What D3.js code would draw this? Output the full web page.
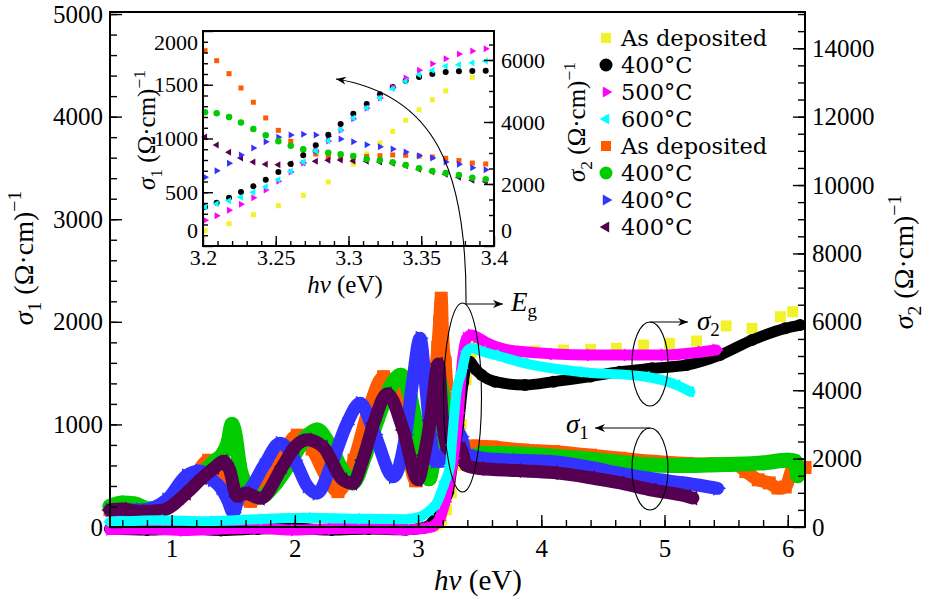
<!DOCTYPE html>
<html><head><meta charset="utf-8">
<script src="https://cdn.jsdelivr.net/npm/d3@7"></script>
<style>
html,body{margin:0;padding:0;background:#fff;}
svg{display:block;}
</style></head>
<body>
<svg id="chart" width="926" height="600"></svg>
<script>
// ================= DATA =================
// Legend labels (order as in the reference legend)
const legendLabels = ["As deposited","400°C","500°C","600°C","As deposited","400°C","400°C","400°C"];

// Axis ticks
const xTicks = [1,2,3,4,5,6];
const y1Ticks = [0,1000,2000,3000,4000,5000];
const y2Ticks = [0,2000,4000,6000,8000,10000,12000,14000];
const insetXTicks = [3.2,3.25,3.3,3.35,3.4];
const insetY1Ticks = [0,500,1000,1500,2000];
const insetY2Ticks = [0,2000,4000,6000];

// ---- main plot: sigma2 (right axis) series, [hν (eV), value] ----
const s2AsDeposited = [[3.12,20],[3.16,80],[3.19,205],[3.23,500],[3.27,1000],[3.31,1800],[3.35,3000],[3.39,4300],[3.43,5100],[3.47,5350],[3.55,5300],[3.7,5200],[3.95,5150],[4.18,5175],[4.4,5195],[4.61,5225],[4.83,5322],[5.04,5371],[5.26,5439],[5.5,5880],[5.71,5809],[5.94,6150],[6.04,6296]];
const s2T400 = [[0.5,-60],[0.8,-90],[1.1,-50],[1.4,-100],[1.7,-60],[2.0,-40],[2.3,-90],[2.6,-60],[2.9,-80],[3.05,-20],[3.12,150],[3.164,351],[3.21,700],[3.245,1032],[3.286,2009],[3.327,2982],[3.367,4249],[3.394,4737],[3.42,4833],[3.47,4600],[3.516,4444],[3.624,4249],[3.868,4152],[4.1,4250],[4.4,4400],[4.64,4541],[4.9,4640],[5.18,4737],[5.45,5029],[5.71,5468],[5.98,5809],[6.1,5906]];
const s2T500 = [[0.5,-70],[0.8,-60],[1.1,-100],[1.4,-60],[1.7,-40],[2.0,-90],[2.3,-50],[2.6,-40],[2.9,-80],[3.1,-10],[3.17,200],[3.218,740],[3.25,1300],[3.286,2009],[3.327,3325],[3.354,4640],[3.394,5517],[3.435,5614],[3.48,5550],[3.55,5400],[3.7,5200],[3.84,5130],[4.1,5060],[4.4,5030],[4.7,5030],[5.0,5030],[5.3,5120],[5.42,5175]];
const s2T600 = [[0.5,150],[0.9,200],[1.3,170],[1.7,230],[2.1,270],[2.5,240],[2.9,230],[3.016,300],[3.1,500],[3.15,693],[3.218,1325],[3.26,1800],[3.273,2398],[3.313,3957],[3.354,4541],[3.394,5126],[3.435,5225],[3.52,5130],[3.624,5029],[3.868,4786],[4.3,4541],[4.85,4395],[5.1,4150],[5.21,3956]];

// ---- main plot: sigma1 (left axis) series ----
const s1AsDeposited = [[0.5,170],[0.62,190],[0.75,160],[0.9,165],[1.05,280],[1.18,480],[1.3,650],[1.4,560],[1.5,400],[1.64,250],[1.78,430],[1.9,700],[2.02,895],[2.14,760],[2.25,500],[2.35,345],[2.48,650],[2.6,1150],[2.72,1465],[2.83,1250],[2.92,720],[2.98,450],[3.04,650],[3.1,1050],[3.14,1450],[3.16,1750],[3.175,2000],[3.188,2230],[3.2,1820],[3.22,1600],[3.24,1280],[3.26,1000],[3.28,860],[3.32,830],[3.38,780],[3.45,790],[3.6,780],[3.85,750],[4.1,735],[4.4,700],[4.64,670],[4.9,640],[5.18,620],[5.4,615],[5.56,620],[5.66,540],[5.76,460],[5.85,430],[5.92,380],[5.98,390],[6.05,590],[6.14,580]];
const s1T400a = [[0.5,200],[0.6,235],[0.7,225],[0.82,175],[0.95,200],[1.05,300],[1.15,420],[1.25,520],[1.35,640],[1.42,720],[1.46,830],[1.49,1000],[1.52,860],[1.55,600],[1.6,420],[1.72,295],[1.84,420],[1.96,630],[2.08,860],[2.18,945],[2.28,800],[2.38,560],[2.47,430],[2.57,700],[2.67,1050],[2.77,1350],[2.86,1480],[2.94,1250],[3.0,880],[3.05,560],[3.09,470],[3.13,750],[3.16,1150],[3.18,1400],[3.2,1250],[3.25,1080],[3.3,830],[3.35,760],[3.39,640],[3.45,680],[3.52,720],[3.7,715],[4.0,700],[4.3,670],[4.64,630],[4.9,605],[5.2,600],[5.5,610],[5.8,625],[6.0,650],[6.06,640],[6.08,500]];
const s1T400b = [[0.5,165],[0.75,165],[0.96,265],[1.12,500],[1.23,545],[1.33,460],[1.4,380],[1.46,250],[1.5,140],[1.55,300],[1.61,330],[1.75,600],[1.88,816],[2.0,650],[2.1,400],[2.18,330],[2.3,620],[2.42,1000],[2.53,1206],[2.65,900],[2.8,490],[2.9,900],[2.96,1450],[3.016,1840],[3.06,1400],[3.1,900],[3.14,640],[3.2,640],[3.23,770],[3.26,970],[3.285,1039],[3.31,960],[3.35,880],[3.39,710],[3.45,690],[3.52,670],[3.8,650],[4.1,636],[4.4,580],[4.64,523],[4.9,470],[5.18,426],[5.43,377]];
const s1T400c = [[0.5,165],[0.6,175],[0.74,150],[0.93,165],[1.12,330],[1.25,480],[1.35,580],[1.42,640],[1.47,560],[1.53,300],[1.6,330],[1.72,280],[1.9,590],[2.0,780],[2.1,850],[2.23,780],[2.39,460],[2.47,426],[2.55,650],[2.64,1010],[2.75,1300],[2.88,945],[3.0,460],[3.05,700],[3.1,1040],[3.165,1590],[3.2,1010],[3.25,756],[3.29,800],[3.35,760],[3.39,600],[3.5,570],[3.8,550],[4.1,530],[4.4,480],[4.64,430],[4.9,360],[5.18,300],[5.23,283]];

// ---- inset data ----
const insetEnergy = [3.2014,3.2094,3.2179,3.2261,3.2346,3.2431,3.2518,3.2603,3.2689,3.2775,3.2861,3.2946,3.3033,3.3125,3.3216,3.3304,3.3393,3.3485,3.3576,3.3668,3.3759,3.3851,3.3943];
const insetS1AsDeposited = [1817,1724,1603,1470,1337,1191,1076,974,895,856,828,819,823,833,840,847,844,837,828,816,795,772,763];
const insetS1T400a = [1244,1234,1200,1150,1088,1030,974,933,900,881,868,853,837,809,797,778,753,723,698,679,660,635,620];
const insetS1T400b = [639,700,769,847,912,970,1011,1033,1039,1033,1020,995,970,942,924,902,874,840,819,781,760,729,710];
const insetS1T400c = [1014,940,872,819,781,760,756,766,775,788,797,800,791,788,781,769,747,713,691,667,639,611,598];
const insetS2T400 = [1258,1397,1558,1742,1926,2139,2387,2645,2926,3248,3590,3935,4268,4581,4894,5129,5332,5452,5548,5613,5635,5645,5655];
const insetS2T500 = [829,977,1152,1345,1558,1806,2087,2387,2677,3065,3387,3732,4106,4442,4774,5119,5419,5668,5881,6042,6194,6290,6365];
const insetS2T600 = [1258,1365,1461,1571,1732,1913,2139,2410,2710,3074,3397,3752,4129,4452,4774,5074,5313,5526,5668,5797,5848,5913,5968];
const insetYellowEnergy = [3.2014,3.2179,3.2346,3.2518,3.2689,3.2861,3.3033,3.3125,3.3216,3.3304,3.3393,3.3485,3.3576,3.3668,3.3851];
const insetS2AsDeposited = [494,719,1010,1300,1635,2065,2645,2968,3323,3700,4055,4397,4719,5000,5442];

// ================= STYLE =================
const FONT = "'Liberation Serif','Times New Roman',serif";
const LFONT = "'DejaVu Serif','Liberation Serif',serif";
const COL = {yellow:"#f2f22a", black:"#000000", magenta:"#ff00ff", cyan:"#00ffff",
             orange:"#ff5a00", green:"#00cc00", blue:"#3333ff", purple:"#560052"};

const svg = d3.select("#chart");
const defs = svg.append("defs");
defs.append("marker").attr("id","arr").attr("viewBox","0 -5 10 10")
  .attr("refX",10).attr("refY",0).attr("markerWidth",10).attr("markerHeight",10)
  .attr("markerUnits","userSpaceOnUse").attr("orient","auto")
  .append("path").attr("d","M0,-4L10,0L0,4L3,0Z").attr("fill","#000");

// ================= SCALES =================
const x = d3.scaleLinear().domain([0.5,6.14]).range([110,805]);
const y1 = d3.scaleLinear().domain([0,5020]).range([527,12]);
const y2 = d3.scaleLinear().domain([0,15060]).range([527,12]);

const xi = d3.scaleLinear().domain([3.2,3.4]).range([203,494]);
const yi1 = d3.scaleLinear().domain([0,2000]).range([246,31]);
const yi2 = d3.scaleLinear().domain([0,6935]).range([246,31]);

function symSpec(shape, size){
  if (shape==="square") return {type:d3.symbolSquare, area:size*size, rot:0};
  if (shape==="circle") return {type:d3.symbolCircle, area:Math.PI*size*size/4, rot:0};
  if (shape==="triR") return {type:d3.symbolTriangle, area:Math.sqrt(3)/4*size*size, rot:90};
  return {type:d3.symbolTriangle, area:Math.sqrt(3)/4*size*size, rot:-90};
}
function drawSeries(g, data, xs, ys, color, shape, size, bandWidth){
  if (bandWidth > 0){
    g.append("path").datum(data)
      .attr("d", d3.line().x(d=>xs(d[0])).y(d=>ys(d[1])).curve(d3.curveMonotoneX))
      .attr("fill","none").attr("stroke",color).attr("stroke-width",bandWidth)
      .attr("stroke-linejoin","round").attr("stroke-linecap","round");
  }
  const s = symSpec(shape,size);
  g.append("g").selectAll("path").data(data).join("path")
    .attr("transform", d=>`translate(${xs(d[0])},${ys(d[1])}) rotate(${s.rot})`)
    .attr("d", d3.symbol().type(s.type).size(s.area))
    .attr("fill", color);
}

// ================= MAIN SERIES =================
const gMain = svg.append("g");
drawSeries(gMain, s2AsDeposited, x, y2, COL.yellow, "square", 11, 0);
drawSeries(gMain, s1AsDeposited, x, y1, COL.orange, "square", 13, 13);
drawSeries(gMain, s1T400a, x, y1, COL.green, "circle", 15, 15);
drawSeries(gMain, s1T400b, x, y1, COL.blue, "triR", 15, 13);
drawSeries(gMain, s1T400c, x, y1, COL.purple, "triL", 15, 13);
drawSeries(gMain, s2T400, x, y2, COL.black, "circle", 12, 11);
drawSeries(gMain, s2T500, x, y2, COL.magenta, "triR", 13, 11);
drawSeries(gMain, s2T600, x, y2, COL.cyan, "triL", 12, 10);

// ================= MAIN AXES =================
function cleanAxis(g, fs){
  g.attr("font-family",FONT).attr("font-size",fs);
  g.select(".domain").remove();
  g.selectAll(".tick line").attr("stroke","#000").attr("stroke-width",1.4);
  g.selectAll(".tick text").attr("fill","#000");
}
const xMinor = d3.range(0.6,6.14,0.2);
cleanAxis(svg.append("g").attr("transform","translate(0,527)")
  .call(d3.axisBottom(x).tickValues(xMinor).tickSize(-7).tickFormat("")),25);
const gx = svg.append("g").attr("transform","translate(0,527)")
  .call(d3.axisBottom(x).tickValues(xTicks).tickSize(-12).tickFormat(d3.format("d")));
cleanAxis(gx,25);
gx.selectAll(".tick text").attr("y",30).attr("dy",null);

cleanAxis(svg.append("g").attr("transform","translate(110,0)")
  .call(d3.axisLeft(y1).tickValues(d3.range(200,5001,200)).tickSize(-7).tickFormat("")),25);
const gy1 = svg.append("g").attr("transform","translate(110,0)")
  .call(d3.axisLeft(y1).tickValues(y1Ticks).tickSize(-12).tickPadding(7).tickFormat(d3.format("d")));
cleanAxis(gy1,25);

cleanAxis(svg.append("g").attr("transform","translate(805,0)")
  .call(d3.axisRight(y2).tickValues(d3.range(500,15001,500)).tickSize(-7).tickFormat("")),25);
const gy2 = svg.append("g").attr("transform","translate(805,0)")
  .call(d3.axisRight(y2).tickValues(y2Ticks).tickSize(-12).tickPadding(7).tickFormat(d3.format("d")));
cleanAxis(gy2,25);

svg.append("rect").attr("x",110).attr("y",12).attr("width",695).attr("height",515)
  .attr("fill","none").attr("stroke","#000").attr("stroke-width",2);

// titles
function sigmaTitle(t, sub, fs){
  t.append("tspan").attr("font-style","italic").text("σ");
  t.append("tspan").attr("font-size",fs*0.7).attr("dy",fs*0.28).text(sub);
  t.append("tspan").attr("dy",-fs*0.28).text(" (Ω·cm)");
  t.append("tspan").attr("font-size",fs*0.7).attr("dy",-fs*0.42).text("−1");
}
function hnuTitle(t){
  t.append("tspan").attr("font-style","italic").text("hν");
  t.append("tspan").text(" (eV)");
}
const tx = svg.append("text").attr("x",478).attr("y",590).attr("text-anchor","middle")
  .attr("font-family",FONT).attr("font-size",29);
hnuTitle(tx);
const tl = svg.append("text").attr("transform","translate(33,258) rotate(-90)").attr("text-anchor","middle")
  .attr("font-family",FONT).attr("font-size",28);
sigmaTitle(tl,"1",28);
const tr = svg.append("text").attr("transform","translate(913,262) rotate(-90)").attr("text-anchor","middle")
  .attr("font-family",FONT).attr("font-size",28);
sigmaTitle(tr,"2",28);

// ================= INSET =================
const gIn = svg.append("g");
gIn.append("rect").attr("x",203).attr("y",31).attr("width",291).attr("height",215).attr("fill","#fff");
const zipE = (vals)=>insetEnergy.map((e,i)=>[e,vals[i]]);
drawSeries(gIn, insetYellowEnergy.map((e,i)=>[e,insetS2AsDeposited[i]]), xi, yi2, COL.yellow, "square", 5, 0);
drawSeries(gIn, zipE(insetS1AsDeposited), xi, yi1, COL.orange, "square", 5, 0);
drawSeries(gIn, zipE(insetS1T400c), xi, yi1, COL.purple, "triL", 7, 0);
drawSeries(gIn, zipE(insetS1T400b), xi, yi1, COL.blue, "triR", 7, 0);
drawSeries(gIn, zipE(insetS1T400a), xi, yi1, COL.green, "circle", 6.5, 0);
drawSeries(gIn, zipE(insetS2T400), xi, yi2, COL.black, "circle", 6, 0);
drawSeries(gIn, zipE(insetS2T500), xi, yi2, COL.magenta, "triR", 7, 0);
drawSeries(gIn, zipE(insetS2T600), xi, yi2, COL.cyan, "triL", 7, 0);

cleanAxis(gIn.append("g").attr("transform","translate(0,246)")
  .call(d3.axisBottom(xi).tickValues(d3.range(3.21,3.4,0.01)).tickSize(-5).tickFormat("")),22);
const gix = gIn.append("g").attr("transform","translate(0,246)")
  .call(d3.axisBottom(xi).tickValues(insetXTicks).tickSize(-10).tickFormat(d=>String(+d.toFixed(2))));
cleanAxis(gix,22);
gix.selectAll(".tick text").attr("y",19).attr("dy",null);

cleanAxis(gIn.append("g").attr("transform","translate(203,0)")
  .call(d3.axisLeft(yi1).tickValues(d3.range(100,2000,100)).tickSize(-5).tickFormat("")),22);
const giy1 = gIn.append("g").attr("transform","translate(203,0)")
  .call(d3.axisLeft(yi1).tickValues(insetY1Ticks).tickSize(-10).tickPadding(5).tickFormat(d3.format("d")));
cleanAxis(giy1,22);
giy1.selectAll(".tick text").attr("dy", d=> d===2000 ? "0.85em" : (d===0 ? "-0.38em" : "0.32em"));

cleanAxis(gIn.append("g").attr("transform","translate(494,0)")
  .call(d3.axisRight(yi2).tickValues(d3.range(500,6935,500)).tickSize(-5).tickFormat("")),22);
const giy2 = gIn.append("g").attr("transform","translate(494,0)")
  .call(d3.axisRight(yi2).tickValues(insetY2Ticks).tickSize(-10).tickPadding(7).tickFormat(d3.format("d")));
cleanAxis(giy2,22);
giy2.selectAll(".tick text").attr("dy", d=> d===0 ? "-0.38em" : "0.32em");

gIn.append("rect").attr("x",203).attr("y",31).attr("width",291).attr("height",215)
  .attr("fill","none").attr("stroke","#000").attr("stroke-width",2);

const itx = gIn.append("text").attr("x",345).attr("y",293).attr("text-anchor","middle")
  .attr("font-family",FONT).attr("font-size",25);
hnuTitle(itx);
const itl = gIn.append("text").attr("transform","translate(155,130) rotate(-90)").attr("text-anchor","middle")
  .attr("font-family",FONT).attr("font-size",25);
sigmaTitle(itl,"1",25);
const itr = gIn.append("text").attr("transform","translate(585,122) rotate(-90)").attr("text-anchor","middle")
  .attr("font-family",FONT).attr("font-size",25);
sigmaTitle(itr,"2",25);

// ================= ANNOTATIONS =================
const gA = svg.append("g").attr("fill","none").attr("stroke","#000").attr("stroke-width",1.1);
gA.append("ellipse").attr("cx",462.5).attr("cy",397.5).attr("rx",19).attr("ry",94.5);
gA.append("ellipse").attr("cx",650).attr("cy",364).attr("rx",18).attr("ry",42);
gA.append("ellipse").attr("cx",650).attr("cy",469).attr("rx",18).attr("ry",41);
gA.append("path").attr("d","M466,304 C467,170 435,95 336,79").attr("marker-end","url(#arr)");
gA.append("path").attr("d","M466,304 L503,304").attr("marker-end","url(#arr)");
gA.append("path").attr("d","M650,322 L688,322").attr("marker-end","url(#arr)");
gA.append("path").attr("d","M650,428 L595,428").attr("marker-end","url(#arr)");

const eg = svg.append("text").attr("x",511).attr("y",311).attr("font-family",FONT).attr("font-size",27);
eg.append("tspan").attr("font-style","italic").text("E");
eg.append("tspan").attr("font-size",19).attr("dy",6).text("g");
const ls2 = svg.append("text").attr("x",697).attr("y",330).attr("font-family",FONT).attr("font-size",27);
ls2.append("tspan").attr("font-style","italic").text("σ");
ls2.append("tspan").attr("font-size",19).attr("dy",6).text("2");
const ls1 = svg.append("text").attr("x",566).attr("y",433).attr("font-family",FONT).attr("font-size",27);
ls1.append("tspan").attr("font-style","italic").text("σ");
ls1.append("tspan").attr("font-size",19).attr("dy",6).text("1");

// ================= LEGEND =================
const legendStyle = [
  {c:COL.yellow, s:"square", z:10},{c:COL.black, s:"circle", z:13},{c:COL.magenta, s:"triR", z:11},{c:COL.cyan, s:"triL", z:11},
  {c:COL.orange, s:"square", z:10},{c:COL.green, s:"circle", z:13},{c:COL.blue, s:"triR", z:11},{c:COL.purple, s:"triL", z:11}
];
const gL = svg.append("g");
legendLabels.forEach((lab,i)=>{
  const yy = 38 + i*27;
  const st = legendStyle[i];
  const s = symSpec(st.s, st.z);
  gL.append("path").attr("transform",`translate(606,${yy}) rotate(${s.rot})`)
    .attr("d", d3.symbol().type(s.type).size(s.area)).attr("fill", st.c);
  gL.append("text").attr("x",621).attr("y",yy+8).attr("font-family",LFONT).attr("font-size",22.5)
    .attr("fill","#000").text(lab);
});
</script>
</body></html>
